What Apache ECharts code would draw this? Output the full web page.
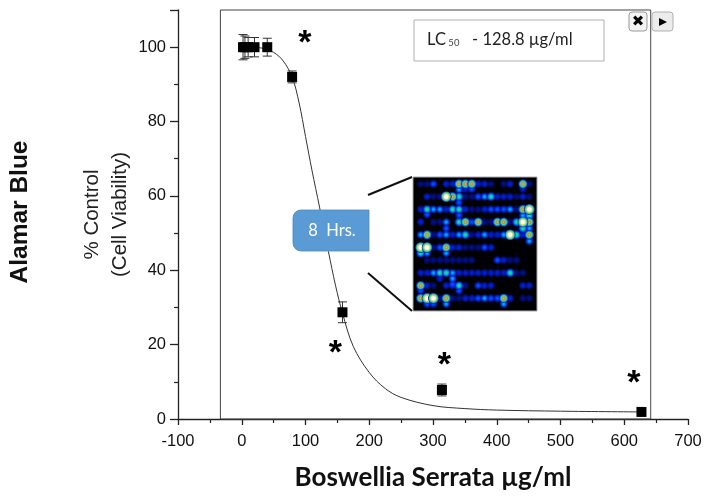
<!DOCTYPE html>
<html><head><meta charset="utf-8">
<style>html,body{margin:0;padding:0;background:#fff}#c{width:708px;height:498px}</style>
<script src="https://cdn.jsdelivr.net/npm/echarts@6/dist/echarts.min.js"></script>
</head><body><div id="c"></div>
<script>
const doses=[2,5,10,20,40,79,158,314,627];
const viability=[100,100,100,100,100,92,28.7,7.8,1.9];
const errors=[3.4,3,2.6,2.6,2.4,1.6,2.8,1.6,0.4];
const curveDose=[0,30,50,65,79,90,100,110,122,136,147,158,175,200,225,250,300,350,400,500,627];
const curvePct=[100,99.8,98.6,96.3,92,85,76,67,57,45,36,28.5,19.5,12.5,8.2,5.8,3.6,2.8,2.4,2.1,1.9];
const starDose=[99,147,318,615];
const starPct=[101,17.6,14.4,9.6];
const boxDose=[-33.5,641.5];
const xTicks=[-100,700];
const spotLevels=[
[1,1,3,0,2,2,6,6,6,2,2,1,0,1,2,0,6,1],
[0,2,1,1,7,6,5,1,1,3,4,5,2,2,2,1,2,1],
[2,5,4,4,2,5,5,2,1,1,2,3,3,3,4,1,6,7],
[2,0,1,1,4,0,5,6,3,6,1,1,6,6,1,5,7,6],
[4,6,1,3,4,2,4,5,1,2,4,2,2,4,7,5,2,6],
[7,7,1,3,6,2,2,1,1,1,3,2,0,0,0,0,0,0],
[0,1,1,1,1,1,1,1,1,0,0,0,3,2,1,1,0,0],
[2,2,4,5,5,4,2,2,2,2,2,2,2,2,5,1,1,0],
[6,2,1,0,2,2,5,1,0,3,2,2,0,0,0,0,2,2],
[6,7,7,1,6,1,1,2,2,3,4,3,3,6,2,0,1,1]];
const spotTails=[[6,0.45,4],[8,0.4,3],[7,0.4,2],[16,0.4,2],[6,1.45,3],[1,2.4,3],[6,2.45,3],[16,2.5,4],[17,2.5,5],[16,3.5,5],[17,3.5,4],[4,3.5,3],[17,4.5,4],[0,5.45,5],[1,5.45,4],[4,5.45,4],[5,7.45,4],[5,7.9,3],[3,7.45,2],[0,8.4,3],[6,8.4,3],[1,9.45,3],[2,9.45,3],[4,9.45,4],[13,9.45,4]];
const clear='rgba(0,20,200,0)';
const levelStops=[
 [],
 [[0,'#00129c'],[0.55,'rgba(0,14,130,0.7)'],[1,clear]],
 [[0,'#0026ee'],[0.55,'rgba(0,24,190,0.8)'],[1,clear]],
 [[0,'#0068ff'],[0.5,'rgba(0,40,235,0.9)'],[1,clear]],
 [[0,'#00d0ee'],[0.45,'#0050ff'],[1,clear]],
 [[0,'#40e860'],[0.4,'#00b0c8'],[0.7,'#0030e0'],[1,clear]],
 [[0,'#eec090'],[0.22,'#c88050'],[0.5,'#50e060'],[0.75,'#0050f0'],[1,clear]],
 [[0,'#ffffff'],[0.32,'#fff8e8'],[0.5,'#c8d080'],[0.7,'#40d070'],[0.88,'#0040e0'],[1,clear]]
];
const levelSizes=[0,8.5,9,9.5,9.5,10,10.5,11.5];

const spotData=[];
spotTails.forEach(t=>spotData.push(t));
spotLevels.forEach((row,r)=>row.forEach((v,c)=>{if(v>0)spotData.push([c,r,v]);}));
spotData.sort((a,b)=>a[2]-b[2]);

const chart=echarts.init(document.getElementById('c'),null,{renderer:'canvas'});
const axFont='"Liberation Sans",Arial,sans-serif';
chart.setOption({
 animation:false,
 grid:[{left:178,right:20,top:10,bottom:79},
       {left:413,top:177,width:124,height:134,show:true,backgroundColor:'#000004',borderColor:'#aaa',borderWidth:1,z:8}],
 xAxis:[{type:'value',min:xTicks[0],max:xTicks[1],interval:100,
   axisLine:{onZero:false,lineStyle:{color:'#222',width:1.3}},
   axisTick:{show:true,length:6,lineStyle:{color:'#222',width:1.3}},
   minorTick:{show:true,splitNumber:2,length:4,lineStyle:{color:'#222',width:1.2}},
   splitLine:{show:false},
   axisLabel:{color:'#111',fontFamily:axFont,fontSize:16.5,margin:14,showMinLabel:true,showMaxLabel:true},
   name:'Boswellia Serrata µg/ml',nameLocation:'middle',nameGap:46,
   nameTextStyle:{fontFamily:'Lato,sans-serif',fontWeight:'bold',fontSize:26,color:'#111'}},
  {gridIndex:1,type:'value',min:-1.2,max:18.2,show:false}],
 yAxis:[{type:'value',min:0,max:110,interval:20,
   axisLine:{show:true,onZero:false,lineStyle:{color:'#222',width:1.3}},
   axisTick:{show:true,length:8,lineStyle:{color:'#222',width:1.3}},
   minorTick:{show:true,splitNumber:2,length:4,lineStyle:{color:'#222',width:1.2}},
   splitLine:{show:false},
   axisLabel:{color:'#111',fontFamily:axFont,fontSize:16.5,margin:12,
     formatter:v=>v>100?'':v},
   name:'% Control\n(Cell Viability)',nameLocation:'middle',nameGap:44,nameRotate:90,nameMoveOverlap:false,
   nameTextStyle:{fontFamily:axFont,fontSize:20.5,color:'#222',lineHeight:28}},
  {gridIndex:1,type:'value',min:-0.55,max:10,inverse:true,show:false}],
 series:[
  {type:'line',name:'fit',data:curveDose.map((d,i)=>[d,curvePct[i]]),smooth:0.35,showSymbol:false,
   lineStyle:{color:'#333',width:1},silent:true,z:2,
   markArea:{silent:true,itemStyle:{color:'rgba(0,0,0,0)',borderColor:'#444',borderWidth:1},
     data:[[{coord:[boxDose[0],0]},{coord:[boxDose[1],110]}]]}},
  {type:'custom',name:'err',z:3,data:doses.map((d,i)=>[d,viability[i],errors[i]]),
   renderItem:(p,api)=>{
     const x=api.value(0),y=api.value(1),e=api.value(2);
     const a=api.coord([x,y+e]),b=api.coord([x,y-e]);
     const cap=4.5,st={stroke:'#333',lineWidth:1,fill:null};
     const mk=(x1,y1,x2,y2)=>({type:'line',shape:{x1,y1,x2,y2},style:st});
     return {type:'group',children:[mk(a[0],a[1],b[0],b[1]),mk(a[0]-cap,a[1],a[0]+cap,a[1]),mk(b[0]-cap,b[1],b[0]+cap,b[1])]};
   }},
  {type:'scatter',name:'means',z:4,data:doses.map((d,i)=>[d,viability[i]]),symbol:'rect',symbolSize:10,itemStyle:{color:'#000',opacity:1}},
  {type:'scatter',name:'stars',z:5,data:starDose.map((d,i)=>[d,starPct[i]]),symbolSize:0,silent:true,itemStyle:{opacity:1},
   label:{show:true,position:'inside',formatter:'*',fontFamily:axFont,fontSize:34,fontWeight:'bold',color:'#000',opacity:1}},
  {type:'scatter',name:'array',xAxisIndex:1,yAxisIndex:1,z:9,silent:true,
   data:spotData.map(s=>({value:[s[0],s[1]],symbolSize:levelSizes[s[2]],
     itemStyle:{opacity:1,color:{type:'radial',x:0.5,y:0.5,r:0.5,
       colorStops:levelStops[s[2]].map(p=>({offset:p[0],color:p[1]}))}}}))}
 ],
 graphic:[
  {type:'text',z:20,x:20,y:212,rotation:Math.PI/2,
   style:{text:'Alamar Blue',font:'bold 24.5px "Liberation Sans",Arial,sans-serif',fill:'#111',align:'center',verticalAlign:'middle'}},
  {type:'rect',z:20,shape:{x:414,y:20,width:190,height:41},style:{fill:'#fff',stroke:'#b0b0b0',lineWidth:1}},
  {type:'text',z:21,x:427,y:40,style:{rich:{a:{font:'16.5px Lato,sans-serif',fill:'#222'},b:{font:'9.5px Lato,sans-serif',fill:'#444',padding:[6,0,0,0]}},
     text:'{a|LC}{b| 50}{a|   - 128.8 µg/ml}',verticalAlign:'middle'}},
  {type:'rect',z:20,shape:{x:629,y:12,width:18,height:19,r:3},style:{fill:'#f2f2f2',stroke:'#999',lineWidth:1}},
  {type:'text',z:21,x:638,y:22,style:{text:'✖',font:'bold 15px "DejaVu Sans",sans-serif',fill:'#000',align:'center',verticalAlign:'middle'}},
  {type:'rect',z:20,shape:{x:652,y:12,width:21,height:19,r:3},style:{fill:'#ececec',stroke:'#b0b0b0',lineWidth:1}},
  {type:'polygon',z:21,shape:{points:[[659,18],[667,22],[659,26]]},style:{fill:'#000'}},
  {type:'rect',z:20,shape:{x:293,y:210,width:76,height:41,r:[8,0,0,8]},style:{fill:'#5b9bd5',stroke:'#4a88c0',lineWidth:0.8}},
  {type:'text',z:21,x:332,y:231,style:{text:'8  Hrs.',font:'16.5px Lato,sans-serif',fill:'#fff',align:'center',verticalAlign:'middle'}},
  {type:'line',z:20,shape:{x1:368,y1:195,x2:412,y2:177},style:{stroke:'#111',lineWidth:2}},
  {type:'line',z:20,shape:{x1:368,y1:273,x2:412,y2:311},style:{stroke:'#111',lineWidth:2}}
 ]
});
</script></body></html>
